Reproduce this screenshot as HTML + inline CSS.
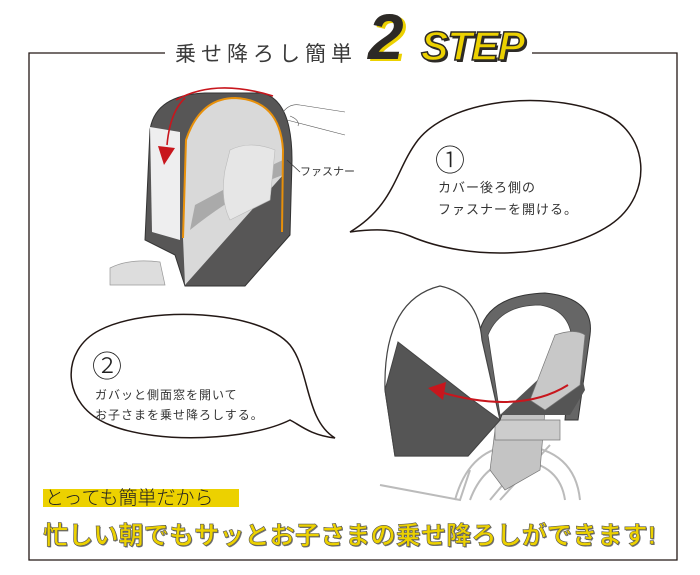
<!DOCTYPE html>
<html><head><meta charset="utf-8"><style>
body{margin:0;width:700px;height:575px;background:#fff;overflow:hidden;font-family:"Liberation Sans","Noto Sans CJK JP",sans-serif;}
svg{position:absolute;left:0;top:0}
.t{position:absolute;white-space:nowrap;color:#333}
</style></head><body>
<svg width="700" height="575" viewBox="0 0 700 575">
<polyline points="165,53 29,53 29,560 677,560 677,53 532,53" fill="none" stroke="#231815" stroke-width="1.3"/>
<path d="M350,232 C380,228 395,230 410,236 C470,262 560,258 610,225 C655,195 650,130 600,112 C540,90 450,100 418,140 C395,170 395,205 350,232 Z" fill="#fff" stroke="#231815" stroke-width="1.5"/>
<path d="M335,438 C310,435 300,425 290,420 C250,440 160,445 110,425 C60,405 60,350 100,330 C150,305 260,310 290,345 C310,370 305,420 335,438 Z" fill="#fff" stroke="#231815" stroke-width="1.5"/>
<path d="M110,268 Q130,258 160,262 L165,285 L110,285 Z" fill="#ddd" stroke="#999" stroke-width="0.7"/>
<path d="M145,240 L150,130 Q155,95 205,93 L262,93 Q292,100 292,160 L290,235 L245,286 L185,286 L175,255 Z" fill="#575656" stroke="#333" stroke-width="1"/>
<path d="M150,127 L180,132 L180,240 L152,232 Z" fill="#eeeeef"/>
<path d="M183,238 L186,140 Q200,98 235,98 Q280,100 283,150 L283,175 L185,285 Z" fill="#d9d9d9"/>
<path d="M190,230 Q240,190 283,175 L283,160 Q250,175 195,205 Z" fill="#aaa"/>
<path d="M230,150 Q250,140 275,150 L270,200 L230,220 Q220,200 225,170 Z" fill="#e6e6e6" stroke="#bbb" stroke-width="0.6"/>
<path d="M183,238 L186,140 Q200,98 235,98 Q280,100 283,150 L282,232" fill="none" stroke="#e8900a" stroke-width="2"/>
<path d="M176,100 Q215,78 273,96" fill="none" stroke="#c8161d" stroke-width="1.6"/>
<path d="M185,98 Q170,112 167,145" fill="none" stroke="#c8161d" stroke-width="1.6"/>
<polygon points="158,146 175,148 164,165" fill="#c8161d"/>
<path d="M283,112 Q290,103 300,105 L345,112 M287,120 L345,135 M290,116 Q300,120 298,126" fill="none" stroke="#555" stroke-width="0.6"/>
<line x1="287" y1="160" x2="300" y2="172" stroke="#333" stroke-width="0.8"/>
<g fill="none" stroke="#bbb" stroke-width="2">
<path d="M380,485 L460,500 L470,470"/>
<path d="M455,500 Q470,445 520,445 Q575,450 580,500"/>
<path d="M470,500 Q485,460 520,460 Q560,465 565,500"/>
<path d="M490,500 L540,440 M500,500 L550,445"/>
</g>
<path d="M500,405 L545,410 L540,470 L505,490 L490,470 L495,430 Z" fill="#c4c4c4" stroke="#777" stroke-width="0.7"/>
<path d="M495,420 L560,420 L560,440 L495,440 Z" fill="#ccc" stroke="#777" stroke-width="0.7"/>
<path d="M480,330 Q490,295 545,293 Q595,298 590,335 L578,420 L565,420 L572,340 Q560,320 535,320 L500,420 L485,420 Z" fill="#666" stroke="#333" stroke-width="1"/>
<path d="M488,335 Q500,305 540,305 Q570,310 572,340 L560,410 L500,415 Z" fill="#fff" stroke="#444" stroke-width="0.8"/>
<path d="M500,415 L575,345 L585,390 L570,415 Z" fill="#555"/>
<path d="M555,335 Q575,328 585,335 L580,385 L545,410 L530,400 Z" fill="#c8c8c8" stroke="#777" stroke-width="0.7"/>
<path d="M385,390 Q383,300 440,286 Q478,294 482,340 L500,420 L468,456 L395,456 Z" fill="#fff" stroke="#444" stroke-width="1.2"/>
<path d="M398,342 L470,398 L500,420 L468,456 L395,456 L385,390 Z" fill="#555" stroke="#444" stroke-width="1"/>
<path d="M568,385 Q520,415 440,392" fill="none" stroke="#c8161d" stroke-width="2"/>
<polygon points="428,388 446,382 443,400" fill="#c8161d"/>
<rect x="43" y="489" width="196" height="18" fill="#ecd100"/>
</svg>
<div class="t" style="left:175px;top:38px;font-size:21px;letter-spacing:5px;color:#3a3a3a">乗せ降ろし簡単</div>
<div class="t" style="left:368px;top:2px;font-size:64px;font-weight:bold;font-style:italic;color:#2d2a26;text-shadow:3px 2px 0 #ecd100;line-height:70px">2</div>
<div class="t" style="left:421px;top:23px;font-size:41px;font-weight:bold;font-style:italic;color:#ecd100;-webkit-text-stroke:1.5px #2d2a26;text-shadow:2px 2px 0 #2d2a26;letter-spacing:-1px">STEP</div>
<div class="t" style="left:300px;top:163px;font-size:11px">ファスナー</div>
<div class="t" style="left:435px;top:136px;font-size:30px;font-weight:300;color:#222">①</div>
<div class="t" style="left:438px;top:177px;font-size:13px;line-height:22px;letter-spacing:1px">カバー後ろ側の<br>ファスナーを開ける。</div>
<div class="t" style="left:92px;top:342px;font-size:30px;font-weight:300;color:#222">②</div>
<div class="t" style="left:95px;top:385px;font-size:12px;line-height:20px;letter-spacing:1px">ガバッと側面窓を開いて<br>お子さまを乗せ降ろしする。</div>
<div class="t" style="left:45px;top:483px;font-size:19px;color:#222;font-weight:300">とっても簡単だから</div>
<div class="t" style="left:43px;top:516px;font-size:25px;font-weight:bold;letter-spacing:0.2px;color:#ecd100;-webkit-text-stroke:0.6px #555;text-shadow:1px 1px 0 #777">忙しい朝でもサッとお子さまの乗せ降ろしができます!</div>
</body></html>
